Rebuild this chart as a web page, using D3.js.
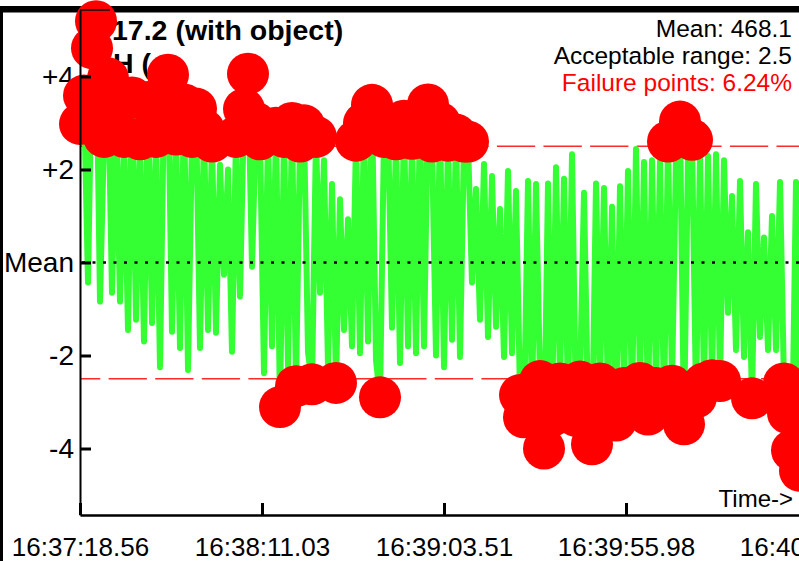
<!DOCTYPE html>
<html><head><meta charset="utf-8">
<script src="https://cdn.jsdelivr.net/npm/d3@7"></script>
<style>html,body{margin:0;padding:0;background:#fff;overflow:hidden}</style>
</head><body>
<svg id="chart" width="799" height="561"></svg>
<script>
const titleLines = ["17.2 (with object)", "H ("];
const xTickLabels = ["16:37:18.56", "16:38:11.03", "16:39:03.51", "16:39:55.98", "16:40:48.46"];
const yTickValues = [4, 2, 0, -2, -4];
const yTickLabels = ["+4", "+2", "Mean", "-2", "-4"];
const meanValue = 468.1;
const acceptableRange = 2.5;
const failurePercent = 6.24;
const sampleInterval = 1.1533; // seconds between samples
const values = [
  2.98, 3.59, -0.43, 4.61, 5.19, -0.84, 2.7, 3.96, -0.65, 3.3,
  -0.84, 2.7, -1.45, 3.55, -1.23, 2.65, -1.7, 3.45, -1.3, 2.7,
  -2.25, 3.5, 4.04, -1.49, 2.75, -1.84, 3.4, -2.31, 2.7, 3.31,
  -1.84, 2.85, -1.45, 2.6, -1.51, 2.1, -0.26, 2.0, -1.92, 2.7,
  -0.73, 3.3, 4.06, -0.09, 3.0, 2.65, -2.38, 2.75, -1.8, 2.9,
  -3.11, 2.7, -2.25, 3.0, -2.66, 2.6, 2.95, -1.92, -2.62, 2.7,
  -0.65, 2.2, -2.25, 1.69, -2.59, 1.36, -1.45, 0.93, -1.8, 2.62,
  -1.95, 3.0, -1.7, 3.39, -2.1, -2.9, 2.7, 3.0, -1.4, 2.65,
  -2.16, 3.05, -1.8, 2.66, -1.95, 3.1, -1.8, 3.4, 2.6, -2.0,
  3.0, -2.25, 2.62, -1.66, 2.75, -2.03, 2.6, 2.6, -0.43, 1.58,
  -1.23, 2.12, -1.6, 1.86, -1.38, 1.15, -2.03, 1.97, -1.95, 1.54,
  -2.85, -3.33, 1.75, -3.0, 1.69, -2.55, -4.0, 1.7, -3.3, 2.05,
  -2.6, 1.8, -3.0, 2.33, -3.3, -2.56, 1.5, -3.2, -3.91, 1.7,
  -2.6, 1.6, -2.96, 1.2, -3.4, 1.64, -2.7, 1.97, -3.1, 2.44,
  -2.59, 2.16, -3.27, 2.2, -2.7, 2.2, -3.1, 2.6, -2.65, 2.33,
  3.03, -3.48, 2.3, 2.64, -2.9, 2.3, -2.6, 2.29, -2.53, 2.33,
  -2.55, 2.2, -1.08, 1.43, -1.88, 1.75, -2.03, 0.65, -2.92, 1.69,
  -1.6, 0.54, -1.88, 1.0, -1.88, 1.73, -2.6, -3.24, -4.04, 1.73,
  -4.48
];

const FONT = "'Liberation Sans', Arial, Helvetica, sans-serif";
const svg = d3.select("#chart");

function toSec(s) { const p = s.split(":"); return (+p[0]) * 3600 + (+p[1]) * 60 + (+p[2]); }
const t0 = toSec(xTickLabels[0]);
const tickSecs = xTickLabels.map(l => toSec(l) - t0);

const x = d3.scaleLinear().domain([0, tickSecs[tickSecs.length - 1]]).range([80, 808]);
const y = d3.scaleLinear().domain([-5.43, 5.43]).range([515, 10]);

const data = values.map((v, i) => ({ t: i * sampleInterval, v }));

// outer frame
svg.append("rect").attr("x", 0).attr("y", 6).attr("width", 799).attr("height", 6.5).attr("fill", "#000");
svg.append("rect").attr("x", 0).attr("y", 6).attr("width", 3).attr("height", 555).attr("fill", "#000");

// title (below the markers)
svg.append("text").attr("x", 112).attr("y", 40).attr("font-family", FONT).attr("font-weight", "bold")
  .attr("font-size", 28.5).attr("fill", "#000").text(titleLines[0]);
svg.append("text").attr("x", 113).attr("y", 73).attr("font-family", FONT).attr("font-weight", "bold")
  .attr("font-size", 28.5).attr("fill", "#000").text(titleLines[1]);

// y axis labels (below markers)
const yAxisLabels = d3.axisLeft(y).tickValues(yTickValues).tickSizeInner(-11).tickSizeOuter(0)
  .tickPadding(6).tickFormat((d, i) => yTickLabels[i]);
const gyl = svg.append("g").attr("transform", "translate(80,0)").call(yAxisLabels);
gyl.selectAll("path,line").remove();
gyl.selectAll("text").attr("font-family", FONT).attr("font-size", 28).attr("fill", "#000");

// thresholds
const thr = [
  { v: acceptableRange, off: 2.5 },
  { v: -acceptableRange, off: 18 }
];
svg.selectAll("line.thr").data(thr).enter().append("line").attr("class", "thr")
  .attr("x1", 80).attr("x2", 799)
  .attr("y1", d => y(d.v)).attr("y2", d => y(d.v))
  .attr("stroke", "#ff2a2a").attr("stroke-width", 1.5)
  .attr("stroke-dasharray", "38.3,8.3").attr("stroke-dashoffset", d => d.off);

// series line
const line = d3.line().x(d => x(d.t)).y(d => y(d.v));
svg.append("path").datum(data).attr("d", line).attr("fill", "none")
  .attr("stroke", "#33ff33").attr("stroke-width", 6)
  .attr("stroke-linejoin", "round").attr("stroke-linecap", "round");

// mean dotted line
svg.append("line").attr("x1", 82).attr("x2", 799).attr("y1", y(0)).attr("y2", y(0))
  .attr("stroke", "#000").attr("stroke-width", 2.5).attr("stroke-dasharray", "3,7.5");

// failure points
svg.selectAll("circle.fail").data(data.filter(d => Math.abs(d.v) > acceptableRange))
  .enter().append("circle").attr("class", "fail")
  .attr("cx", d => x(d.t)).attr("cy", d => y(d.v)).attr("r", 21).attr("fill", "#ff0000");

// axes lines on top
const yAxisLines = d3.axisLeft(y).tickValues(yTickValues).tickSizeInner(-11).tickSizeOuter(0).tickFormat("");
const gy = svg.append("g").attr("transform", "translate(80,0)").call(yAxisLines);
gy.select(".domain").attr("stroke", "#000").attr("stroke-width", 2);
gy.selectAll(".tick line").attr("stroke", "#000").attr("stroke-width", 3);
svg.append("line").attr("x1", 80).attr("x2", 110).attr("y1", 10).attr("y2", 10)
  .attr("stroke", "#000").attr("stroke-width", 1.5);

const xAxis = d3.axisBottom(x).tickValues(tickSecs).tickSizeInner(-12).tickSizeOuter(0)
  .tickPadding(22.5).tickFormat((d, i) => xTickLabels[i]);
const gx = svg.append("g").attr("transform", "translate(0,515)").call(xAxis);
gx.select(".domain").attr("stroke", "#000").attr("stroke-width", 2.5);
gx.selectAll(".tick line").attr("stroke", "#000").attr("stroke-width", 3);
gx.selectAll("text").attr("font-family", FONT).attr("font-size", 26).attr("fill", "#000");

svg.append("text").attr("x", 793).attr("y", 507).attr("text-anchor", "end")
  .attr("font-family", FONT).attr("font-size", 24).attr("fill", "#000").text("Time->");

// stats
const stats = [
  { t: "Mean: " + meanValue.toFixed(1), c: "#000" },
  { t: "Acceptable range: " + acceptableRange, c: "#000" },
  { t: "Failure points: " + failurePercent.toFixed(2) + "%", c: "#ff0000" }
];
svg.selectAll("text.stat").data(stats).enter().append("text").attr("class", "stat")
  .attr("x", 792).attr("y", (d, i) => 36.5 + i * 27).attr("text-anchor", "end")
  .attr("font-family", FONT).attr("font-size", 24.5).attr("fill", d => d.c).text(d => d.t);
</script>
</body></html>
